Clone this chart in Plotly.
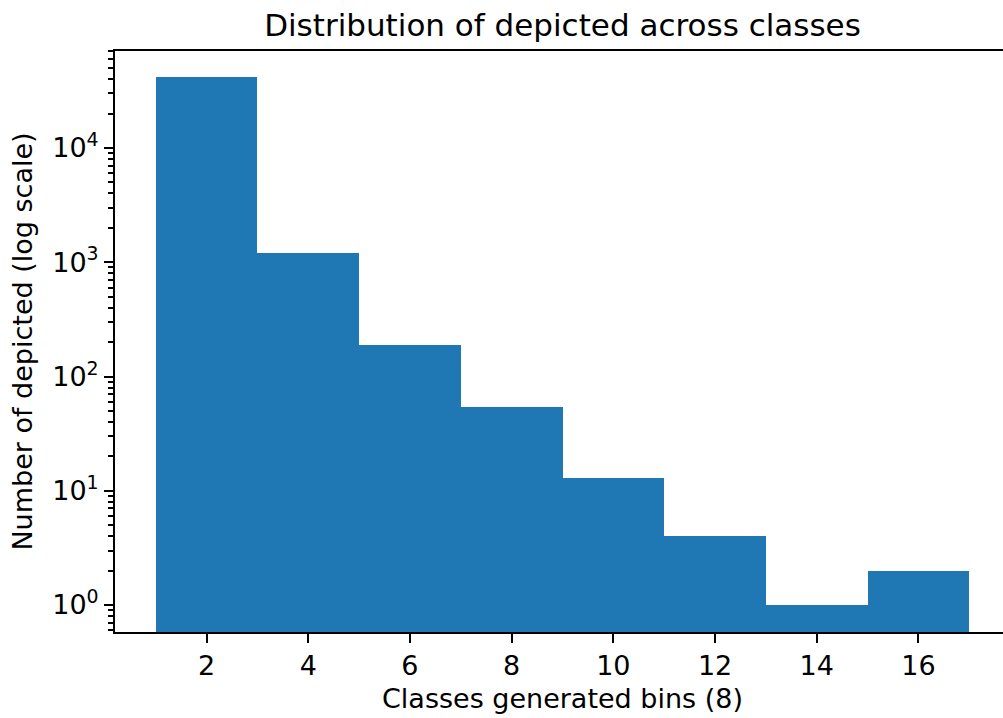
import plotly.graph_objects as go

bin_centers = [2, 4, 6, 8, 10, 12, 14, 16]
counts = [41800, 1200, 190, 54, 13, 4, 1, 2]
bin_width = 2
x_ticks = [2, 4, 6, 8, 10, 12, 14, 16]
y_ticks = [1, 10, 100, 1000, 10000]
y_tick_labels = ["10<sup>0</sup>", "10<sup>1</sup>", "10<sup>2</sup>", "10<sup>3</sup>", "10<sup>4</sup>"]

minor_vals = [m * 10 ** k for k in range(-1, 5) for m in range(2, 10)]

fig = go.Figure()
fig.add_trace(go.Bar(
    x=bin_centers, y=counts, width=bin_width,
    marker=dict(color="#1f77b4", line=dict(width=0)),
))

font_family = "DejaVu Sans"
fig.update_layout(
    width=1012, height=718,
    margin=dict(l=115, r=2, t=51, b=86, autoexpand=False),
    paper_bgcolor="white", plot_bgcolor="white",
    showlegend=False,
    font=dict(family=font_family, color="black"),
    title=dict(text="Distribution of depicted across classes", x=0.5, xref="paper",
               xanchor="center", y=0.965, yanchor="middle",
               font=dict(size=31, family=font_family, color="black")),
    xaxis=dict(
        range=[0.2, 17.8], tickvals=x_ticks, ticks="outside", ticklen=9, tickwidth=2,
        tickcolor="black", showline=True, linecolor="black", linewidth=2, mirror=True,
        showgrid=False, zeroline=False, tickfont=dict(size=27), automargin=False,
        title=dict(text="Classes generated bins (8)", font=dict(size=27), standoff=9),
    ),
    yaxis=dict(
        type="log", range=[-0.236, 4.849], tickvals=y_ticks, ticktext=y_tick_labels,
        ticks="outside", ticklen=9, tickwidth=2, tickcolor="black",
        showline=True, linecolor="black", linewidth=2, mirror=False,
        showgrid=False, zeroline=False, tickfont=dict(size=27), automargin=False,
        minor=dict(tickvals=minor_vals, ticks="outside", ticklen=5, tickwidth=1.5, tickcolor="black", showgrid=False),
        title=dict(text="Number of depicted (log scale)", font=dict(size=27), standoff=12),
    ),
    bargap=0,
)

fig.write_html("out.html", config={"displayModeBar": False},
               post_script="document.body.style.margin='0';document.body.style.overflow='hidden';")
